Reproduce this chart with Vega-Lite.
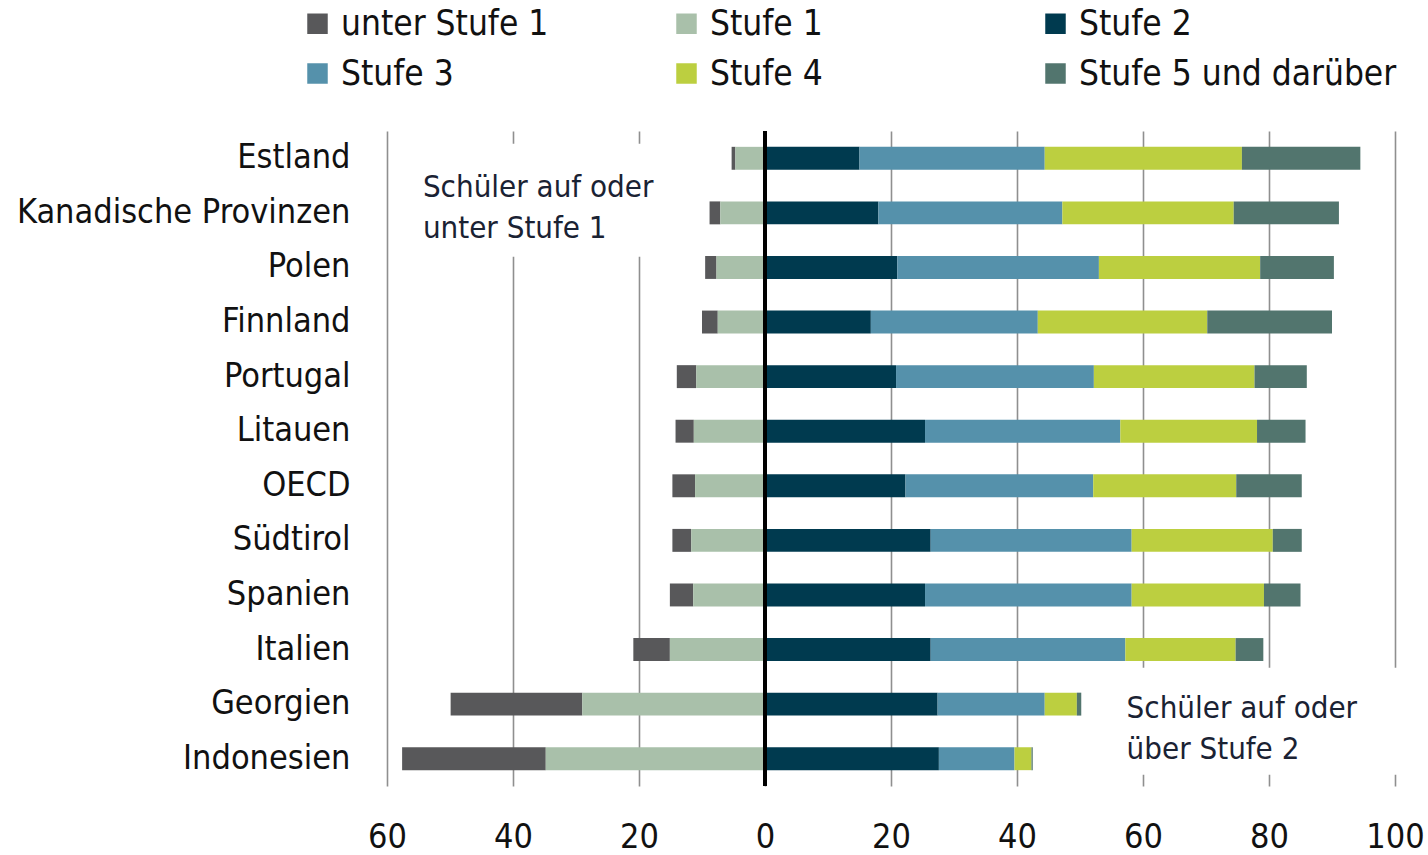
{
  "$schema": "https://vega.github.io/schema/vega-lite/v6.json",
  "width": 1008,
  "height": 655,
  "autosize": {"type": "none"},
  "padding": {"left": 387, "top": 131, "right": 33, "bottom": 69},
  "background": "white",
  "config": {
    "font": "DejaVu Sans Condensed",
    "view": {"stroke": null}
  },
  "datasets": {
    "levels": [
      {"Land": "Estland", "Stufe": "unter Stufe 1", "Wert": -0.6},
      {"Land": "Estland", "Stufe": "Stufe 1", "Wert": -4.7},
      {"Land": "Estland", "Stufe": "Stufe 2", "Wert": 15.0},
      {"Land": "Estland", "Stufe": "Stufe 3", "Wert": 29.4},
      {"Land": "Estland", "Stufe": "Stufe 4", "Wert": 31.3},
      {"Land": "Estland", "Stufe": "Stufe 5 und darüber", "Wert": 18.8},
      {"Land": "Kanadische Provinzen", "Stufe": "unter Stufe 1", "Wert": -1.7},
      {"Land": "Kanadische Provinzen", "Stufe": "Stufe 1", "Wert": -7.1},
      {"Land": "Kanadische Provinzen", "Stufe": "Stufe 2", "Wert": 18.0},
      {"Land": "Kanadische Provinzen", "Stufe": "Stufe 3", "Wert": 29.2},
      {"Land": "Kanadische Provinzen", "Stufe": "Stufe 4", "Wert": 27.2},
      {"Land": "Kanadische Provinzen", "Stufe": "Stufe 5 und darüber", "Wert": 16.7},
      {"Land": "Polen", "Stufe": "unter Stufe 1", "Wert": -1.8},
      {"Land": "Polen", "Stufe": "Stufe 1", "Wert": -7.7},
      {"Land": "Polen", "Stufe": "Stufe 2", "Wert": 21.0},
      {"Land": "Polen", "Stufe": "Stufe 3", "Wert": 32.0},
      {"Land": "Polen", "Stufe": "Stufe 4", "Wert": 25.6},
      {"Land": "Polen", "Stufe": "Stufe 5 und darüber", "Wert": 11.7},
      {"Land": "Finnland", "Stufe": "unter Stufe 1", "Wert": -2.5},
      {"Land": "Finnland", "Stufe": "Stufe 1", "Wert": -7.5},
      {"Land": "Finnland", "Stufe": "Stufe 2", "Wert": 16.8},
      {"Land": "Finnland", "Stufe": "Stufe 3", "Wert": 26.5},
      {"Land": "Finnland", "Stufe": "Stufe 4", "Wert": 26.9},
      {"Land": "Finnland", "Stufe": "Stufe 5 und darüber", "Wert": 19.8},
      {"Land": "Portugal", "Stufe": "unter Stufe 1", "Wert": -3.1},
      {"Land": "Portugal", "Stufe": "Stufe 1", "Wert": -10.9},
      {"Land": "Portugal", "Stufe": "Stufe 2", "Wert": 20.8},
      {"Land": "Portugal", "Stufe": "Stufe 3", "Wert": 31.4},
      {"Land": "Portugal", "Stufe": "Stufe 4", "Wert": 25.5},
      {"Land": "Portugal", "Stufe": "Stufe 5 und darüber", "Wert": 8.3},
      {"Land": "Litauen", "Stufe": "unter Stufe 1", "Wert": -2.9},
      {"Land": "Litauen", "Stufe": "Stufe 1", "Wert": -11.3},
      {"Land": "Litauen", "Stufe": "Stufe 2", "Wert": 25.4},
      {"Land": "Litauen", "Stufe": "Stufe 3", "Wert": 31.0},
      {"Land": "Litauen", "Stufe": "Stufe 4", "Wert": 21.7},
      {"Land": "Litauen", "Stufe": "Stufe 5 und darüber", "Wert": 7.7},
      {"Land": "OECD", "Stufe": "unter Stufe 1", "Wert": -3.6},
      {"Land": "OECD", "Stufe": "Stufe 1", "Wert": -11.1},
      {"Land": "OECD", "Stufe": "Stufe 2", "Wert": 22.3},
      {"Land": "OECD", "Stufe": "Stufe 3", "Wert": 29.8},
      {"Land": "OECD", "Stufe": "Stufe 4", "Wert": 22.7},
      {"Land": "OECD", "Stufe": "Stufe 5 und darüber", "Wert": 10.4},
      {"Land": "Südtirol", "Stufe": "unter Stufe 1", "Wert": -3.0},
      {"Land": "Südtirol", "Stufe": "Stufe 1", "Wert": -11.7},
      {"Land": "Südtirol", "Stufe": "Stufe 2", "Wert": 26.3},
      {"Land": "Südtirol", "Stufe": "Stufe 3", "Wert": 31.9},
      {"Land": "Südtirol", "Stufe": "Stufe 4", "Wert": 22.4},
      {"Land": "Südtirol", "Stufe": "Stufe 5 und darüber", "Wert": 4.6},
      {"Land": "Spanien", "Stufe": "unter Stufe 1", "Wert": -3.7},
      {"Land": "Spanien", "Stufe": "Stufe 1", "Wert": -11.4},
      {"Land": "Spanien", "Stufe": "Stufe 2", "Wert": 25.4},
      {"Land": "Spanien", "Stufe": "Stufe 3", "Wert": 32.8},
      {"Land": "Spanien", "Stufe": "Stufe 4", "Wert": 21.0},
      {"Land": "Spanien", "Stufe": "Stufe 5 und darüber", "Wert": 5.8},
      {"Land": "Italien", "Stufe": "unter Stufe 1", "Wert": -5.8},
      {"Land": "Italien", "Stufe": "Stufe 1", "Wert": -15.1},
      {"Land": "Italien", "Stufe": "Stufe 2", "Wert": 26.3},
      {"Land": "Italien", "Stufe": "Stufe 3", "Wert": 30.9},
      {"Land": "Italien", "Stufe": "Stufe 4", "Wert": 17.5},
      {"Land": "Italien", "Stufe": "Stufe 5 und darüber", "Wert": 4.4},
      {"Land": "Georgien", "Stufe": "unter Stufe 1", "Wert": -20.9},
      {"Land": "Georgien", "Stufe": "Stufe 1", "Wert": -29.0},
      {"Land": "Georgien", "Stufe": "Stufe 2", "Wert": 27.4},
      {"Land": "Georgien", "Stufe": "Stufe 3", "Wert": 17.0},
      {"Land": "Georgien", "Stufe": "Stufe 4", "Wert": 5.1},
      {"Land": "Georgien", "Stufe": "Stufe 5 und darüber", "Wert": 0.7},
      {"Land": "Indonesien", "Stufe": "unter Stufe 1", "Wert": -22.8},
      {"Land": "Indonesien", "Stufe": "Stufe 1", "Wert": -34.8},
      {"Land": "Indonesien", "Stufe": "Stufe 2", "Wert": 27.6},
      {"Land": "Indonesien", "Stufe": "Stufe 3", "Wert": 12.0},
      {"Land": "Indonesien", "Stufe": "Stufe 4", "Wert": 2.7},
      {"Land": "Indonesien", "Stufe": "Stufe 5 und darüber", "Wert": 0.2}
    ]
  },
  "layer": [
    {
      "data": {"name": "levels"},
      "mark": {"type": "bar"},
      "encoding": {
        "y": {
          "field": "Land",
          "type": "nominal",
          "sort": ["Estland", "Kanadische Provinzen", "Polen", "Finnland", "Portugal", "Litauen", "OECD", "Südtirol", "Spanien", "Italien", "Georgien", "Indonesien"],
          "scale": {"paddingInner": 0.58, "paddingOuter": 0.29},
          "axis": {
            "title": null,
            "domain": false,
            "ticks": false,
            "labelFontSize": 34,
            "labelPadding": 37,
            "labelLimit": 600,
            "labelColor": "#111111"
          }
        },
        "x": {
          "field": "Wert",
          "type": "quantitative",
          "stack": "zero",
          "scale": {"domain": [-60, 100], "nice": false},
          "axis": {
            "title": null,
            "values": [-60, -40, -20, 0, 20, 40, 60, 80, 100],
            "labelExpr": "abs(datum.value)",
            "labelFlush": false,
            "labelOverlap": false,
            "domain": false,
            "ticks": false,
            "grid": true,
            "gridColor": "#8f8f8f",
            "gridWidth": 1.6,
            "labelFontSize": 34,
            "labelPadding": 34,
            "labelColor": "#111111"
          }
        },
        "color": {
          "field": "Stufe",
          "type": "nominal",
          "scale": {
            "domain": ["unter Stufe 1", "Stufe 1", "Stufe 2", "Stufe 3", "Stufe 4", "Stufe 5 und darüber"],
            "range": ["#58585a", "#a9c0aa", "#003a4f", "#5591ab", "#bccf40", "#52756e"]
          },
          "legend": {
            "title": null,
            "orient": "none",
            "legendX": -87,
            "legendY": -125,
            "padding": 0,
            "direction": "horizontal",
            "columns": 3,
            "gridAlign": "all",
            "columnPadding": 10,
            "rowPadding": 14,
            "symbolType": "square",
            "symbolSize": 420,
            "symbolStrokeWidth": 0,
            "labelFontSize": 35,
            "labelOffset": 6,
            "labelLimit": 600,
            "labelColor": "#111111"
          }
        },
        "order": {"field": "Stufe", "sort": "ascending"}
      }
    },
    {
      "data": {"values": [{}]},
      "mark": {"type": "rect", "color": "white", "height": 113, "yOffset": 42},
      "encoding": {
        "x": {"datum": -58.5},
        "x2": {"datum": -17.6},
        "y": {"datum": "Estland"}
      }
    },
    {
      "data": {"values": [{}]},
      "mark": {"type": "rect", "color": "white", "height": 107, "yOffset": 17},
      "encoding": {
        "x": {"datum": 55.6},
        "x2": {"datum": 100.8},
        "y": {"datum": "Georgien"}
      }
    },
    {
      "data": {"values": [{"Null": 0}]},
      "mark": {"type": "rule", "color": "#000000", "strokeWidth": 4},
      "encoding": {"x": {"field": "Null", "type": "quantitative"}}
    },
    {
      "data": {"values": [{}]},
      "mark": {"type": "text", "align": "left", "baseline": "alphabetic", "fontSize": 31, "lineHeight": 41, "color": "#1a2233", "dy": 39},
      "encoding": {
        "x": {"datum": -54.3},
        "y": {"datum": "Estland"},
        "text": {"value": ["Schüler auf oder", "unter Stufe 1"]}
      }
    },
    {
      "data": {"values": [{}]},
      "mark": {"type": "text", "align": "left", "baseline": "alphabetic", "fontSize": 31, "lineHeight": 41, "color": "#1a2233", "dy": 14},
      "encoding": {
        "x": {"datum": 57.4},
        "y": {"datum": "Georgien"},
        "text": {"value": ["Schüler auf oder", "über Stufe 2"]}
      }
    }
  ]
}
